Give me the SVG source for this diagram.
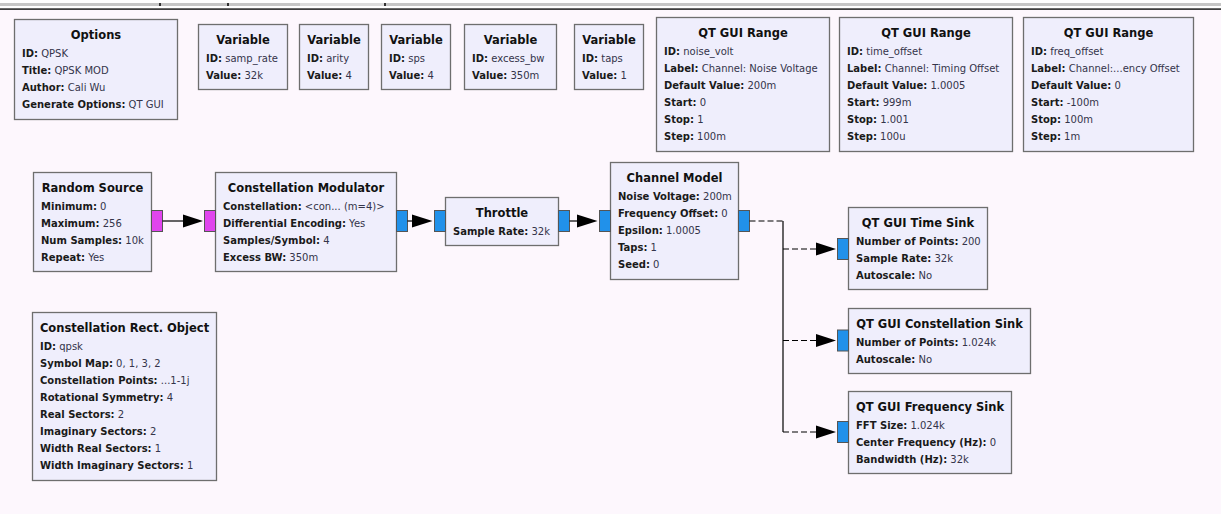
<svg xmlns="http://www.w3.org/2000/svg" width="1221" height="514" viewBox="0 0 1221 514">
  <style>
    .bg { fill: #fdf7fd; }
    .blk { fill: #efeefc; stroke: #6e6e6e; stroke-width: 1.3; }
    .ttl { font-family: "DejaVu Sans", Verdana, sans-serif; font-size: 11.5px; font-weight: bold; fill: #111; text-anchor: middle; }
    .row { font-family: "DejaVu Sans", Verdana, sans-serif; font-size: 10px; fill: #34344a; }
    .row .k { font-weight: bold; fill: #1a1a1a; }
    .pm { fill: #e045ee; stroke: #555; stroke-width: 1; }
    .pb { fill: #2191ea; stroke: #555; stroke-width: 1; }
    .wire { stroke: #000; stroke-width: 1.2; fill: none; }
    .dash { stroke-dasharray: 6 3; }
    .head { fill: #000; }
  </style>

  <!-- canvas -->
  <rect class="bg" x="0" y="0" width="1221" height="514"/>
  <rect x="0" y="0" width="1221" height="9" fill="#ffffff"/>
  <rect x="0" y="3" width="1221" height="3" fill="#c6c6c6"/>
  <rect x="300" y="3" width="85" height="3" fill="#dcdcdc"/>
  <rect x="159" y="3" width="2" height="3" fill="#333"/>
  <rect x="227" y="3" width="2" height="3" fill="#333"/>
  <rect x="384" y="3" width="2" height="3" fill="#333"/>
  <rect x="0" y="8.3" width="1221" height="1.6" fill="#2b2b2b"/>

  <!-- settings blocks -->
  <g id="options">
    <rect class="blk" x="14.5" y="19.5" width="163" height="100"/>
    <text class="ttl" x="96" y="39">Options</text>
    <text class="row" x="22" y="57"><tspan class="k">ID:</tspan> QPSK</text>
    <text class="row" x="22" y="74"><tspan class="k">Title:</tspan> QPSK MOD</text>
    <text class="row" x="22" y="91"><tspan class="k">Author:</tspan> Cali Wu</text>
    <text class="row" x="22" y="108"><tspan class="k">Generate Options:</tspan> QT GUI</text>
  </g>

  <g id="var_samp_rate">
    <rect class="blk" x="198.5" y="24.5" width="89" height="65"/>
    <text class="ttl" x="243" y="44">Variable</text>
    <text class="row" x="206" y="62"><tspan class="k">ID:</tspan> samp_rate</text>
    <text class="row" x="206" y="79"><tspan class="k">Value:</tspan> 32k</text>
  </g>
  <g id="var_arity">
    <rect class="blk" x="299.5" y="24.5" width="69" height="65"/>
    <text class="ttl" x="334" y="44">Variable</text>
    <text class="row" x="307" y="62"><tspan class="k">ID:</tspan> arity</text>
    <text class="row" x="307" y="79"><tspan class="k">Value:</tspan> 4</text>
  </g>
  <g id="var_sps">
    <rect class="blk" x="381.5" y="24.5" width="69" height="65"/>
    <text class="ttl" x="416" y="44">Variable</text>
    <text class="row" x="389" y="62"><tspan class="k">ID:</tspan> sps</text>
    <text class="row" x="389" y="79"><tspan class="k">Value:</tspan> 4</text>
  </g>
  <g id="var_excess_bw">
    <rect class="blk" x="464.5" y="24.5" width="92" height="65"/>
    <text class="ttl" x="510.5" y="44">Variable</text>
    <text class="row" x="472" y="62"><tspan class="k">ID:</tspan> excess_bw</text>
    <text class="row" x="472" y="79"><tspan class="k">Value:</tspan> 350m</text>
  </g>
  <g id="var_taps">
    <rect class="blk" x="574.5" y="24.5" width="69" height="65"/>
    <text class="ttl" x="609" y="44">Variable</text>
    <text class="row" x="582" y="62"><tspan class="k">ID:</tspan> taps</text>
    <text class="row" x="582" y="79"><tspan class="k">Value:</tspan> 1</text>
  </g>

  <g id="range_noise_volt">
    <rect class="blk" x="656.5" y="17.5" width="173" height="134"/>
    <text class="ttl" x="743" y="37">QT GUI Range</text>
    <text class="row" x="664" y="55"><tspan class="k">ID:</tspan> noise_volt</text>
    <text class="row" x="664" y="72"><tspan class="k">Label:</tspan> Channel: Noise Voltage</text>
    <text class="row" x="664" y="89"><tspan class="k">Default Value:</tspan> 200m</text>
    <text class="row" x="664" y="106"><tspan class="k">Start:</tspan> 0</text>
    <text class="row" x="664" y="123"><tspan class="k">Stop:</tspan> 1</text>
    <text class="row" x="664" y="140"><tspan class="k">Step:</tspan> 100m</text>
  </g>
  <g id="range_time_offset">
    <rect class="blk" x="839.5" y="17.5" width="173" height="134"/>
    <text class="ttl" x="926" y="37">QT GUI Range</text>
    <text class="row" x="847" y="55"><tspan class="k">ID:</tspan> time_offset</text>
    <text class="row" x="847" y="72"><tspan class="k">Label:</tspan> Channel: Timing Offset</text>
    <text class="row" x="847" y="89"><tspan class="k">Default Value:</tspan> 1.0005</text>
    <text class="row" x="847" y="106"><tspan class="k">Start:</tspan> 999m</text>
    <text class="row" x="847" y="123"><tspan class="k">Stop:</tspan> 1.001</text>
    <text class="row" x="847" y="140"><tspan class="k">Step:</tspan> 100u</text>
  </g>
  <g id="range_freq_offset">
    <rect class="blk" x="1023.5" y="17.5" width="170" height="134"/>
    <text class="ttl" x="1108.5" y="37">QT GUI Range</text>
    <text class="row" x="1031" y="55"><tspan class="k">ID:</tspan> freq_offset</text>
    <text class="row" x="1031" y="72"><tspan class="k">Label:</tspan> Channel:...ency Offset</text>
    <text class="row" x="1031" y="89"><tspan class="k">Default Value:</tspan> 0</text>
    <text class="row" x="1031" y="106"><tspan class="k">Start:</tspan> -100m</text>
    <text class="row" x="1031" y="123"><tspan class="k">Stop:</tspan> 100m</text>
    <text class="row" x="1031" y="140"><tspan class="k">Step:</tspan> 1m</text>
  </g>

  <!-- flow blocks -->
  <g id="random_source">
    <rect class="blk" x="33.5" y="172.5" width="118" height="99"/>
    <text class="ttl" x="92.5" y="192">Random Source</text>
    <text class="row" x="41" y="210"><tspan class="k">Minimum:</tspan> 0</text>
    <text class="row" x="41" y="227"><tspan class="k">Maximum:</tspan> 256</text>
    <text class="row" x="41" y="244"><tspan class="k">Num Samples:</tspan> 10k</text>
    <text class="row" x="41" y="261"><tspan class="k">Repeat:</tspan> Yes</text>
    <rect class="pm" x="151.5" y="210.5" width="11" height="21"/>
  </g>

  <g id="constellation_modulator">
    <rect class="blk" x="215.5" y="172.5" width="181" height="99"/>
    <text class="ttl" x="306" y="192">Constellation Modulator</text>
    <text class="row" x="223" y="210"><tspan class="k">Constellation:</tspan> &lt;con... (m=4)&gt;</text>
    <text class="row" x="223" y="227"><tspan class="k">Differential Encoding:</tspan> Yes</text>
    <text class="row" x="223" y="244"><tspan class="k">Samples/Symbol:</tspan> 4</text>
    <text class="row" x="223" y="261"><tspan class="k">Excess BW:</tspan> 350m</text>
    <rect class="pm" x="204.5" y="210.5" width="11" height="21"/>
    <rect class="pb" x="396.5" y="210.5" width="11" height="21"/>
  </g>

  <g id="throttle">
    <rect class="blk" x="445.5" y="197.5" width="113" height="48"/>
    <text class="ttl" x="502" y="217">Throttle</text>
    <text class="row" x="453" y="235"><tspan class="k">Sample Rate:</tspan> 32k</text>
    <rect class="pb" x="434.5" y="210.5" width="11" height="21"/>
    <rect class="pb" x="558.5" y="210.5" width="11" height="21"/>
  </g>

  <g id="channel_model">
    <rect class="blk" x="610.5" y="162.5" width="128" height="117"/>
    <text class="ttl" x="674.5" y="182">Channel Model</text>
    <text class="row" x="618" y="200"><tspan class="k">Noise Voltage:</tspan> 200m</text>
    <text class="row" x="618" y="217"><tspan class="k">Frequency Offset:</tspan> 0</text>
    <text class="row" x="618" y="234"><tspan class="k">Epsilon:</tspan> 1.0005</text>
    <text class="row" x="618" y="251"><tspan class="k">Taps:</tspan> 1</text>
    <text class="row" x="618" y="268"><tspan class="k">Seed:</tspan> 0</text>
    <rect class="pb" x="599.5" y="210.5" width="11" height="21"/>
    <rect class="pb" x="738.5" y="210.5" width="11" height="21"/>
  </g>

  <g id="time_sink">
    <rect class="blk" x="848.5" y="207.5" width="139" height="82"/>
    <text class="ttl" x="918" y="227">QT GUI Time Sink</text>
    <text class="row" x="856" y="245"><tspan class="k">Number of Points:</tspan> 200</text>
    <text class="row" x="856" y="262"><tspan class="k">Sample Rate:</tspan> 32k</text>
    <text class="row" x="856" y="279"><tspan class="k">Autoscale:</tspan> No</text>
    <rect class="pb" x="837.5" y="238.5" width="11" height="21"/>
  </g>

  <g id="constellation_sink">
    <rect class="blk" x="848.5" y="308.5" width="182" height="65"/>
    <text class="ttl" x="939.5" y="328">QT GUI Constellation Sink</text>
    <text class="row" x="856" y="346"><tspan class="k">Number of Points:</tspan> 1.024k</text>
    <text class="row" x="856" y="363"><tspan class="k">Autoscale:</tspan> No</text>
    <rect class="pb" x="837.5" y="330" width="11" height="21"/>
  </g>

  <g id="freq_sink">
    <rect class="blk" x="848.5" y="391.5" width="163" height="82"/>
    <text class="ttl" x="930" y="411">QT GUI Frequency Sink</text>
    <text class="row" x="856" y="429"><tspan class="k">FFT Size:</tspan> 1.024k</text>
    <text class="row" x="856" y="446"><tspan class="k">Center Frequency (Hz):</tspan> 0</text>
    <text class="row" x="856" y="463"><tspan class="k">Bandwidth (Hz):</tspan> 32k</text>
    <rect class="pb" x="837.5" y="421.5" width="11" height="21"/>
  </g>

  <g id="constellation_rect">
    <rect class="blk" x="32.5" y="312.5" width="184" height="168"/>
    <text class="ttl" x="124.5" y="332">Constellation Rect. Object</text>
    <text class="row" x="40" y="350"><tspan class="k">ID:</tspan> qpsk</text>
    <text class="row" x="40" y="367"><tspan class="k">Symbol Map:</tspan> 0, 1, 3, 2</text>
    <text class="row" x="40" y="384"><tspan class="k">Constellation Points:</tspan> ...1-1j</text>
    <text class="row" x="40" y="401"><tspan class="k">Rotational Symmetry:</tspan> 4</text>
    <text class="row" x="40" y="418"><tspan class="k">Real Sectors:</tspan> 2</text>
    <text class="row" x="40" y="435"><tspan class="k">Imaginary Sectors:</tspan> 2</text>
    <text class="row" x="40" y="452"><tspan class="k">Width Real Sectors:</tspan> 1</text>
    <text class="row" x="40" y="469"><tspan class="k">Width Imaginary Sectors:</tspan> 1</text>
  </g>

  <!-- connections -->
  <g id="connections">
    <line class="wire" x1="162.5" y1="221" x2="184" y2="221"/>
    <polygon class="head" points="183,214.5 203,221 183,227.5"/>

    <line class="wire" x1="407.5" y1="221" x2="413" y2="221"/>
    <polygon class="head" points="412,214.5 432.5,221 412,227.5"/>

    <line class="wire" x1="569.5" y1="221" x2="578" y2="221"/>
    <polygon class="head" points="577,214.5 597.5,221 577,227.5"/>

    <!-- fan-out from the channel model -->
    <line class="wire dash" x1="749.5" y1="221" x2="783" y2="221"/>
    <line class="wire" x1="783" y1="221" x2="783" y2="432"/>
    <line class="wire dash" x1="783" y1="249" x2="817" y2="249"/>
    <polygon class="head" points="816,242.5 836,249 816,255.5"/>
    <line class="wire dash" x1="783" y1="340.5" x2="817" y2="340.5"/>
    <polygon class="head" points="816,334 836,340.5 816,347"/>
    <line class="wire dash" x1="783" y1="432" x2="817" y2="432"/>
    <polygon class="head" points="816,425.5 836,432 816,438.5"/>
  </g>
</svg>
